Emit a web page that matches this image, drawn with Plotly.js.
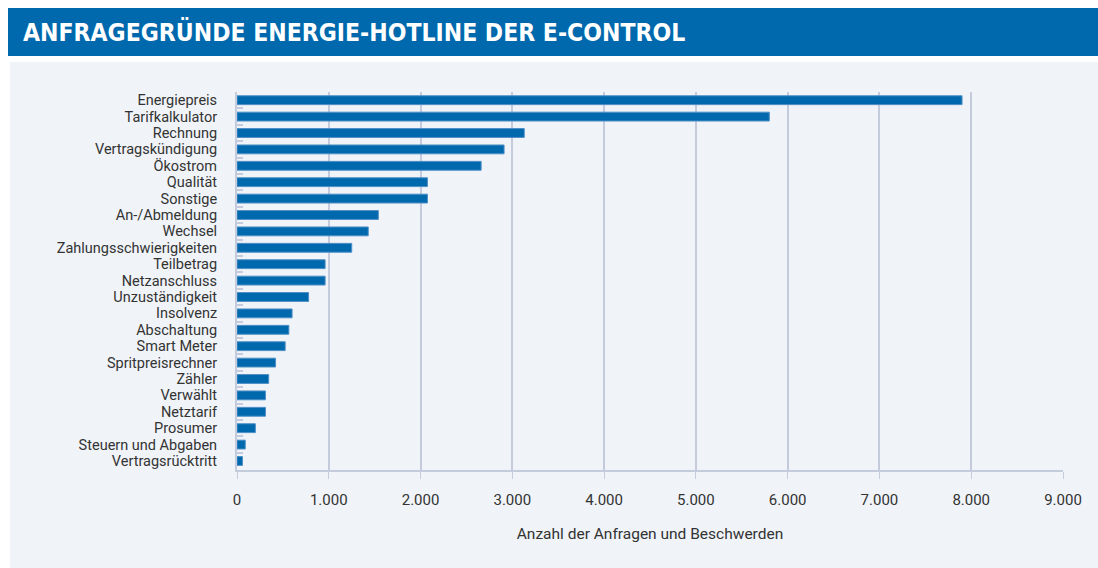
<!DOCTYPE html>
<html><head><meta charset="utf-8">
<script src="https://cdn.plot.ly/plotly-3.0.1.min.js"></script>
<style>html,body{margin:0;padding:0;background:#fff;}#chart{width:1098px;height:568px;}</style>
</head><body><div id="chart"></div>
<script>
const categories = ["Energiepreis","Tarifkalkulator","Rechnung","Vertragskündigung","Ökostrom","Qualität","Sonstige","An-/Abmeldung","Wechsel","Zahlungsschwierigkeiten","Teilbetrag","Netzanschluss","Unzuständigkeit","Insolvenz","Abschaltung","Smart Meter","Spritpreisrechner","Zähler","Verwählt","Netztarif","Prosumer","Steuern und Abgaben","Vertragsrücktritt"];
const values = [7900,5800,3130,2910,2660,2075,2075,1540,1430,1250,960,960,780,600,565,525,420,345,310,310,200,90,60];
const xTicks = [0,1000,2000,3000,4000,5000,6000,7000,8000,9000];
const titleText = "ANFRAGEGRÜNDE ENERGIE-HOTLINE DER E-CONTROL";
const xTitle = "Anzahl der Anfragen und Beschwerden";

const L=237,R=35,T=92,B=98,W=1098,H=568;
const pw=W-L-R, ph=H-T-B;
const px=x=>(x-L)/pw, py=y=>(H-B-y)/ph;
const grid='#C3CBDC';
const font="Roboto, 'Open Sans', sans-serif";

Plotly.newPlot('chart',[{
  type:'bar', orientation:'h', x:values, y:categories,
  width:0.54,
  marker:{color:'#0068AC', line:{color:'#4F8FC6', width:1}},
  hoverinfo:'x+y'
}],{
  width:W,height:H,
  margin:{l:L,r:R,t:T,b:B,pad:0},
  paper_bgcolor:'#ffffff', plot_bgcolor:'rgba(0,0,0,0)',
  separators:',.',
  showlegend:false,
  xaxis:{range:[0,9000], tickvals:xTicks, tickformat:',d', showgrid:true, gridcolor:grid, gridwidth:2,
    zeroline:false, showline:true, linecolor:grid, linewidth:2, ticks:'outside', ticklen:7, tickcolor:grid, tickwidth:1,
    tickfont:{family:font,size:15,color:'#333'}, ticklabelstandoff:8,
    title:{text:xTitle, font:{family:font,size:15.5,color:'#333'}, standoff:20}},
  yaxis:{type:'category', categoryorder:'array', categoryarray:categories, range:[22.55,-0.5],
    tickmode:'linear', tick0:0, dtick:1,
    showgrid:false, zeroline:false, showline:true, linecolor:grid, linewidth:2,
    ticks:'inside', tickson:'boundaries', ticklen:6, tickcolor:grid, tickwidth:2,
    tickfont:{family:font,size:14.5,color:'#333'}, ticklabelstandoff:15},
  shapes:[
    {type:'rect',xref:'paper',yref:'paper',x0:px(10),x1:px(1098),y0:py(568),y1:py(62),fillcolor:'#F0F4F9',line:{width:0},layer:'below'},
    {type:'rect',xref:'paper',yref:'paper',x0:px(8),x1:px(1098),y0:py(56),y1:py(8),fillcolor:'#0069AD',line:{width:0},layer:'below'}
  ],
  annotations:[{xref:'paper',yref:'paper',x:px(21),y:py(32),xanchor:'left',yanchor:'middle',showarrow:false,
    text:'<b>'+titleText+'</b>', font:{family:"'DejaVu Sans Condensed', sans-serif",size:24.5,color:'#fff'}}]
},{displayModeBar:false,staticPlot:true});
</script></body></html>
